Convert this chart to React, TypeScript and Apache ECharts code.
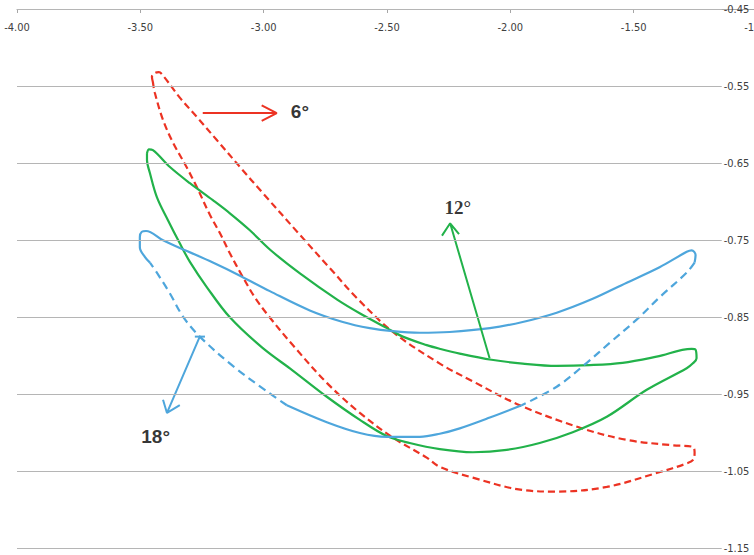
import React, { useEffect, useRef } from "react";
import * as echarts from "echarts";

// Axis settings
const xMin = -4;
const xMax = -1;
const xStep = 0.5;
const yMin = -1.15;
const yMax = -0.45;
const yGridValues = [-0.45, -0.55, -0.65, -0.75, -0.85, -0.95, -1.05, -1.15];
const gridEndX = -1.143;

// 6° profile (dashed red), closed loop
const red6: number[][] = [
  [-3.449, -0.545], [-3.453, -0.538], [-3.441, -0.533], [-3.425, -0.532], [-3.404, -0.538],
  [-3.34, -0.565], [-3.271, -0.59], [-3.19, -0.62], [-3.096, -0.655], [-3.003, -0.689],
  [-2.853, -0.743], [-2.732, -0.786], [-2.622, -0.825], [-2.476, -0.869], [-2.286, -0.91],
  [-2.152, -0.933], [-1.962, -0.964], [-1.719, -0.993], [-1.528, -1.009], [-1.342, -1.016],
  [-1.261, -1.018], [-1.253, -1.025], [-1.257, -1.034], [-1.281, -1.039], [-1.407, -1.052],
  [-1.609, -1.07], [-1.812, -1.076], [-1.95, -1.074], [-2.152, -1.058], [-2.286, -1.044],
  [-2.339, -1.032], [-2.476, -1.006], [-2.61, -0.974], [-2.744, -0.935], [-2.882, -0.886],
  [-2.983, -0.847], [-3.036, -0.824], [-3.084, -0.798], [-3.137, -0.767], [-3.177, -0.741],
  [-3.218, -0.717], [-3.271, -0.681], [-3.311, -0.656], [-3.368, -0.623], [-3.408, -0.594],
  [-3.441, -0.559], [-3.449, -0.545],
];

// 12° profile (solid green), closed loop
const green12: number[][] = [
  [-3.473, -0.637], [-3.465, -0.632], [-3.449, -0.633], [-3.38, -0.655], [-3.299, -0.676],
  [-3.206, -0.698], [-3.137, -0.715], [-3.056, -0.737], [-2.975, -0.762], [-2.853, -0.793],
  [-2.702, -0.827], [-2.609, -0.845], [-2.5, -0.864], [-2.436, -0.875], [-2.339, -0.886],
  [-2.283, -0.891], [-2.205, -0.897], [-2.076, -0.905], [-1.95, -0.91], [-1.812, -0.913],
  [-1.678, -0.912], [-1.545, -0.909], [-1.407, -0.901], [-1.265, -0.891], [-1.249, -0.892],
  [-1.245, -0.903], [-1.261, -0.91], [-1.285, -0.916], [-1.447, -0.944], [-1.609, -0.979],
  [-1.747, -0.999], [-1.881, -1.013], [-2.015, -1.022], [-2.152, -1.025], [-2.286, -1.021],
  [-2.408, -1.013], [-2.501, -1.004], [-2.61, -0.983], [-2.744, -0.953], [-2.882, -0.919],
  [-3.007, -0.889], [-3.137, -0.85], [-3.23, -0.811], [-3.299, -0.778], [-3.34, -0.754],
  [-3.388, -0.724], [-3.433, -0.694], [-3.461, -0.663], [-3.473, -0.646], [-3.473, -0.637],
];

// 18° profile (blue), split into solid and dashed parts
const blue18Upper: number[][] = [
  [-3.461, -0.779], [-3.481, -0.772], [-3.502, -0.759], [-3.502, -0.746], [-3.494, -0.739],
  [-3.477, -0.738], [-3.408, -0.75], [-3.311, -0.764], [-3.206, -0.779], [-3.096, -0.796],
  [-2.975, -0.816], [-2.813, -0.841], [-2.679, -0.856], [-2.57, -0.864], [-2.476, -0.868],
  [-2.367, -0.87], [-2.246, -0.869], [-2.083, -0.864], [-1.95, -0.856], [-1.812, -0.844],
  [-1.666, -0.826], [-1.528, -0.805], [-1.395, -0.785], [-1.285, -0.765], [-1.265, -0.763],
  [-1.249, -0.769], [-1.253, -0.779],
];
const blue18RightDash: number[][] = [
  [-1.253, -0.779], [-1.285, -0.792], [-1.395, -0.824], [-1.488, -0.853], [-1.597, -0.883],
  [-1.69, -0.909], [-1.812, -0.94], [-1.954, -0.964],
];
const blue18Lower: number[][] = [
  [-1.954, -0.964], [-2.083, -0.98], [-2.205, -0.994], [-2.286, -1.001], [-2.367, -1.005],
  [-2.501, -1.005], [-2.61, -1.0], [-2.744, -0.986], [-2.906, -0.964],
];
const blue18LeftDash: number[][] = [
  [-2.906, -0.964], [-2.987, -0.946], [-3.125, -0.913], [-3.259, -0.875], [-3.327, -0.849],
  [-3.38, -0.819], [-3.433, -0.792], [-3.461, -0.779],
];

// Annotation arrows: tail, tip, head-left, tip, head-right
const arrow6: number[][] = [
  [-3.247, -0.585], [-2.947, -0.585], [-3.008, -0.575], [-2.947, -0.585], [-3.008, -0.595],
];
const arrow12: number[][] = [
  [-2.084, -0.903], [-2.244, -0.728], [-2.277, -0.744], [-2.244, -0.728], [-2.208, -0.742],
];
const arrow18: number[][] = [
  [-3.259, -0.875], [-3.392, -0.974], [-3.408, -0.957], [-3.392, -0.974], [-3.34, -0.964],
];
const arrow18Cap: number[][] = [[-3.279, -0.875], [-3.238, -0.875]];

// Annotation labels
const labelNames = ["6°", "12°", "18°"];
const labelX = [-2.853, -2.213, -3.438];
const labelY = [-0.5836, -0.7081, -1.0051];

const RED = "#ec3323";
const GREEN = "#22b24a";
const BLUE = "#4ea6dc";
const AXIS_FONT = "'Liberation Sans Narrow', 'DejaVu Sans Condensed', 'Liberation Sans', sans-serif";

export default function App() {
  const ref = useRef<HTMLDivElement>(null);

  useEffect(() => {
    document.body.style.margin = "0";
    if (!ref.current) return;
    const chart = echarts.init(ref.current, null, { renderer: "svg" });

    const lineSeries = (data: number[][], color: string, dashed: boolean, extra: any = {}) => ({
      type: "line",
      data,
      showSymbol: false,
      symbol: "none",
      smooth: 0.35,
      silent: true,
      lineStyle: { color, width: 2.2, type: dashed ? [7, 4] : "solid" },
      z: 3,
      ...extra,
    });
    const arrowSeries = (data: number[][], color: string) => ({
      type: "line",
      data,
      showSymbol: false,
      symbol: "none",
      smooth: false,
      silent: true,
      lineStyle: { color, width: 2, type: "solid" },
      z: 4,
    });

    const labelStyles = [
      { fontFamily: "'Liberation Sans', Arial, sans-serif" },
      { fontFamily: "'Liberation Serif', 'Times New Roman', serif" },
      { fontFamily: "'Liberation Sans', Arial, sans-serif" },
    ];

    chart.setOption({
      animation: false,
      backgroundColor: "#ffffff",
      grid: {
        left: 17,
        right: -3,
        top: 9,
        bottom: 6.4,
        containLabel: false,
        outerBoundsMode: "none",
      },
      xAxis: {
        type: "value",
        position: "top",
        min: xMin,
        max: xMax,
        interval: xStep,
        axisLine: { show: true, onZero: false, lineStyle: { color: "#a6a6a6", width: 1 } },
        axisTick: { show: true, inside: true, length: 4, lineStyle: { color: "#a6a6a6" } },
        axisLabel: {
          inside: true,
          margin: 13,
          color: "#404040",
          fontSize: 11,
          fontFamily: AXIS_FONT,
          hideOverlap: false,
          showMaxLabel: true,
          formatter: (v: number) => v.toFixed(2),
        },
        splitLine: { show: false },
      },
      yAxis: { type: "value", min: yMin, max: yMax, show: false },
      series: [
        {
          type: "line",
          data: [],
          silent: true,
          markLine: {
            silent: true,
            symbol: ["none", "none"],
            animation: false,
            lineStyle: { color: "#b5b5b5", width: 1, type: "solid" },
            label: {
              show: true,
              position: "end",
              distance: 2,
              color: "#404040",
              fontSize: 11,
              fontFamily: AXIS_FONT,
              formatter: "{b}",
            },
            emphasis: { disabled: true },
            data: yGridValues.map((v) => [
              { coord: [xMin, v], name: v.toFixed(2) },
              { coord: [gridEndX, v] },
            ]),
          },
          z: 1,
        },
        lineSeries(red6, RED, true),
        lineSeries(green12, GREEN, false),
        lineSeries(blue18Upper, BLUE, false),
        lineSeries(blue18RightDash, BLUE, true, { lineStyle: { color: BLUE, width: 2.2, type: [8, 5] } }),
        lineSeries(blue18Lower, BLUE, false),
        lineSeries(blue18LeftDash, BLUE, true, { lineStyle: { color: BLUE, width: 2.2, type: [8, 5] } }),
        arrowSeries(arrow6, RED),
        arrowSeries(arrow12, GREEN),
        arrowSeries(arrow18, BLUE),
        arrowSeries(arrow18Cap, BLUE),
        {
          type: "scatter",
          silent: true,
          symbolSize: 1,
          itemStyle: { color: "transparent" },
          z: 5,
          data: labelNames.map((n, i) => ({
            name: n,
            value: [labelX[i], labelY[i]],
            label: {
              show: true,
              position: "inside",
              formatter: "{b}",
              color: "#000000",
              fontSize: 19,
              fontWeight: "bold",
              ...labelStyles[i],
            },
          })),
        },
      ],
    });

    return () => chart.dispose();
  }, []);

  return <div ref={ref} style={{ width: 754, height: 555 }} />;
}
